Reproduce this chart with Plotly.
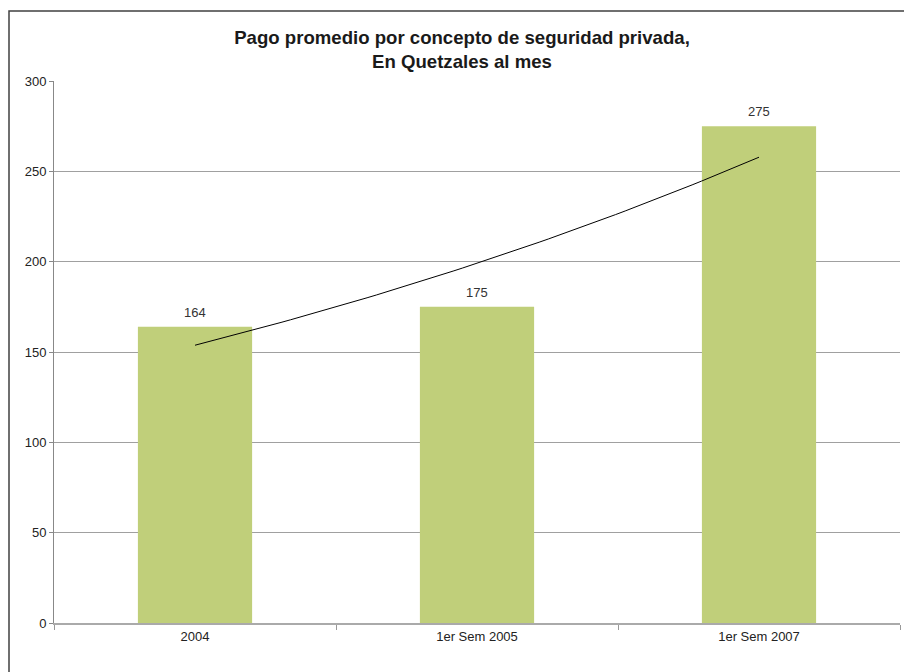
import numpy as np
import plotly.graph_objects as go

categories = ["2004", "1er Sem 2005", "1er Sem 2007"]
pagos = [164, 175, 275]

# exponential trendline (as in the spreadsheet chart)
idx = np.arange(1, len(pagos) + 1)
b, a = np.polyfit(idx, np.log(pagos), 1)
xs = np.linspace(1, len(pagos), 60)
trend = np.exp(a + b * xs)

# page body adds an 8px offset, so the figure is sized to fit the window
W, H = 904, 664
L, R, T, B = 46, 12, 73, 49
pw, ph = W - L - R, H - T - B

fig = go.Figure()
fig.add_trace(go.Bar(
    x=categories, y=pagos,
    marker=dict(color="#C0CF7A", line=dict(width=0)),
    width=0.405, hoverinfo="x+y",
))
fig.add_trace(go.Scatter(
    x=xs - 1, y=trend, mode="lines", xaxis="x2",
    line=dict(color="#000000", width=1), hoverinfo="skip",
))

# value labels above each bar
for i, v in enumerate(pagos):
    fig.add_annotation(
        x=i, y=v, xref="x2", yref="y", text=str(v), showarrow=False,
        yanchor="bottom", yshift=5, font=dict(size=13, color="#333333"),
    )

fig.update_layout(
    width=W, height=H,
    margin=dict(l=L, r=R, t=T, b=B),
    paper_bgcolor="white", plot_bgcolor="white",
    showlegend=False,
    font=dict(family="Liberation Sans, Arial, sans-serif", size=13, color="#222222"),
    title=dict(
        text="<b>Pago promedio por concepto de seguridad privada,<br>En Quetzales al mes</b>",
        x=(462 - 8) / W, xanchor="center", y=1 - (44 - 8) / H, yanchor="middle",
        font=dict(size=18.6, color="#1a1a1a"),
    ),
    xaxis=dict(
        type="category", tickson="boundaries", ticks="outside", ticklen=5,
        tickcolor="#999999", showline=True, linecolor="#aaaaaa", linewidth=2,
        showgrid=False, tickfont=dict(size=13, color="#222222"),
    ),
    xaxis2=dict(
        overlaying="x", range=[-0.5, 2.5], visible=False,
    ),
    yaxis=dict(
        range=[0, 300], dtick=50, showgrid=True, gridcolor="#a0a0a0", gridwidth=1,
        showline=True, linecolor="#888888", linewidth=1,
        ticks="outside", ticklen=4, tickcolor="#888888",
        tickfont=dict(size=13, color="#222222"), zeroline=False,
    ),
    shapes=[dict(
        type="rect", xref="paper", yref="paper",
        x0=(1 - L) / pw, x1=1.1, y0=-0.2, y1=(ph + T - 3) / ph,
        line=dict(color="#404040", width=1.5), fillcolor="rgba(0,0,0,0)",
        layer="below",
    )],
)

fig.write_html("out.html")
